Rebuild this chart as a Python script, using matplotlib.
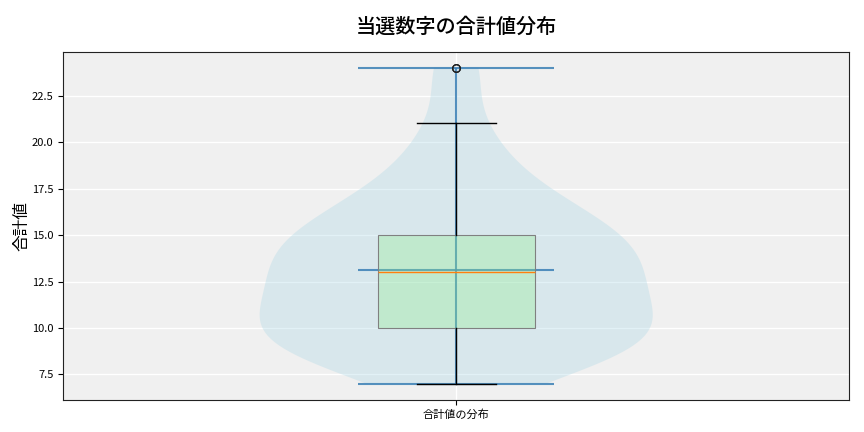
import numpy as np
import matplotlib
matplotlib.use("Agg")
import matplotlib.pyplot as plt

plt.rcParams['font.family'] = ['Noto Sans CJK JP', 'DejaVu Sans']

# Sum values of winning numbers and how often each occurred
sum_values = [7, 8, 9, 10, 11, 12, 13, 14, 15, 16, 17, 18, 19, 20, 21, 24]
sum_counts = [2, 7, 8, 9, 7, 6, 8, 7, 7, 6, 3, 3, 2, 1, 2, 3]
category_label = "合計値の分布"
title = "当選数字の合計値分布"
y_label = "合計値"

data = np.repeat(sum_values, sum_counts)

fig, ax = plt.subplots(figsize=(8.64, 4.32), dpi=100)
fig.subplots_adjust(left=0.073, right=0.983, top=0.88, bottom=0.075)
ax.set_facecolor('#f0f0f0')
ax.grid(True, color='white', linewidth=1.0)
ax.set_axisbelow(True)

vp = ax.violinplot([data], positions=[1], widths=0.5, showmeans=True,
                   showextrema=True)
for body in vp['bodies']:
    body.set_facecolor('lightblue')
    body.set_edgecolor('none')
    body.set_alpha(0.35)
for key in ('cbars', 'cmins', 'cmaxes', 'cmeans'):
    vp[key].set_color('#3a7fb5')
    vp[key].set_linewidth(1.5)
    vp[key].set_alpha(0.85)

bp = ax.boxplot([data], positions=[1], widths=0.2, patch_artist=True,
                flierprops=dict(marker='o', markersize=5.5,
                                markeredgewidth=0.8, markeredgecolor='#222222',
                                markerfacecolor='none'))
for box in bp['boxes']:
    box.set_facecolor((144/255, 238/255, 144/255, 0.33))
    box.set_edgecolor('#808080')
    box.set_linewidth(0.8)
for w in bp['whiskers']:
    w.set_color('black')
for c in bp['caps']:
    c.set_color('black')

ax.set_xticks([1])
ax.set_xticklabels([category_label], fontsize=8)
ax.tick_params(axis='y', labelsize=8)
ax.set_ylabel(y_label, fontsize=12, labelpad=1)
ax.set_title(title, fontsize=14.5, pad=14, fontweight='medium')
for s in ax.spines.values():
    s.set_color('#222222')

fig.savefig('out.png', dpi=100)
